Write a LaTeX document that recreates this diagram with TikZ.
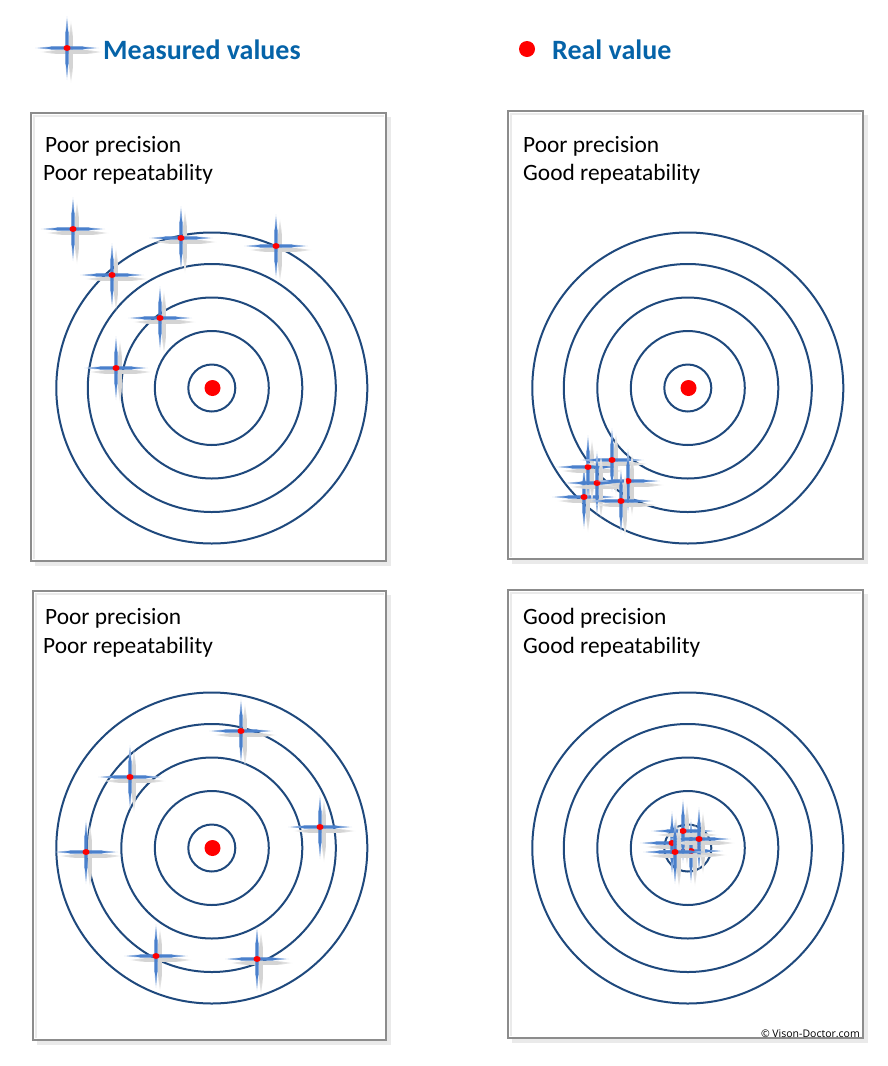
\documentclass[tikz,border=0pt]{standalone}
\usepackage{fontspec}
\setmainfont{Carlito}
\newfontfamily\notefont{Open Sans}
\definecolor{ring}{HTML}{1F497D}
\definecolor{starblue}{HTML}{4A80CC}
\definecolor{legendblue}{HTML}{0563A8}
\definecolor{framegray}{HTML}{8C8C8C}
\definecolor{shadegray}{HTML}{EAEAEA}
\tikzset{
  ringline/.style={draw=ring,line width=2pt},
  realdot/.style={circle,fill=red,inner sep=0pt,minimum size=16pt},
  stardot/.style={ellipse,fill=red,inner sep=0pt,minimum width=7pt,minimum height=6pt},
  frameline/.style={draw=framegray,line width=2.5pt,fill=white},
  frameshade/.style={draw=shadegray,line width=4pt},
  label/.style={anchor=base west,font=\fontsize{23.4}{23.4}\selectfont,inner sep=0pt},
  legend/.style={anchor=base west,font=\fontsize{28}{28}\selectfont\bfseries,text=legendblue,inner sep=0pt},
  note/.style={anchor=base east,font=\notefont\fontsize{10.5}{10.5}\selectfont,inner sep=0pt},
  measured/.pic={
    % shadow arms, pale tips first
    \foreach \len/\wid/\tint in {31/1.2/6,28/1.6/12,22/1.9/17}{
      \fill[black!\tint] (4.5-\len,4) -- (4.5-\len*0.7,4-\wid) -- (4.5+\len*0.7,4-\wid) -- (4.5+\len,4)
        -- (4.5+\len*0.7,4+\wid) -- (4.5-\len*0.7,4+\wid) -- cycle;
      \fill[black!\tint] (4,4-\len) -- (4-\wid,4-\len*0.7) -- (4-\wid,4+\len*0.7) -- (4,4+\len)
        -- (4+\wid,4+\len*0.7) -- (4+\wid,4-\len*0.7) -- cycle;
    }
    % blue arms
    \foreach \len/\wid/\tint in {32/0.9/35,29/1.2/65,22/1.6/100}{
      \fill[starblue!\tint] (-\len,0) -- (-\len*0.7,-\wid) -- (\len*0.7,-\wid) -- (\len,0)
        -- (\len*0.7,\wid) -- (-\len*0.7,\wid) -- cycle;
      \fill[starblue!\tint] (0,-\len) -- (-\wid,-\len*0.7) -- (-\wid,\len*0.7) -- (0,\len)
        -- (\wid,\len*0.7) -- (\wid,-\len*0.7) -- cycle;
    }
    \node[stardot] (-dot) at (0,0) {};
  },
}
\usetikzlibrary{shapes.geometric}
\begin{document}
\begin{tikzpicture}[x=1pt,y=-1pt]
  \useasboundingbox (0,0) rectangle (888,1066);

  % frames
  \foreach \name/\xa/\ya/\xb/\yb in {a/31/113/386/561,b/508/111/863/559,c/33/591/386/1040,d/508/590/863/1038} {
    \draw[frameshade] (\xa+4,\yb+3) -- (\xb+3,\yb+3) -- (\xb+3,\ya+4);
    \draw[frameline] (\xa,\ya) rectangle (\xb,\yb);
    \draw[shadegray,line width=2.5pt] (\xa+3,\yb-2) -- (\xa+3,\ya+3) -- (\xb-2,\ya+3);
  }

  % targets
  \foreach \cx/\cy in {211.8/388,687.8/388,211.8/848,687.8/848} {
    \foreach \r in {23.5,57,90.5,124,155.5}
      \draw[ringline] (\cx,\cy) circle[radius=\r];
  }
  \node[realdot] (realA) at (212.5,388) {};
  \node[realdot] (realB) at (688.5,388) {};
  \node[realdot] (realC) at (212.5,848) {};
  \node[realdot] (realD) at (688.5,848) {};

  % legend
  \pic (legendstar) at (67,48) {measured};
  \node[legend] (legendA) at (103,59) {Measured values};
  \node[realdot] (legendreal) at (527,49) {};
  \node[legend] (legendB) at (552,59) {Real value};

  % labels
  \node[label] (a1) at (45,152) {Poor precision};
  \node[label] (a2) at (43,180) {Poor repeatability};
  \node[label] (b1) at (523,152) {Poor precision};
  \node[label] (b2) at (523,180) {Good repeatability};
  \node[label] (c1) at (45,624) {Poor precision};
  \node[label] (c2) at (43,653) {Poor repeatability};
  \node[label] (d1) at (523,624) {Good precision};
  \node[label] (d2) at (523,653) {Good repeatability};
  \node[note] (copy) at (860,1037) {© Vison-Doctor.com};

  % measured values
  \foreach \x/\y in {73/229,112/275,181/238,276/246,160/318,116/368,
    584/497,588/467,612/460,597/483,628/481,621/501,
    241/731,130/777,320/827,86/852,156/956,257/959,
    672/843,691/851,683/831,699/839,675/852}
    \pic at (\x,\y) {measured};
\end{tikzpicture}
\end{document}
